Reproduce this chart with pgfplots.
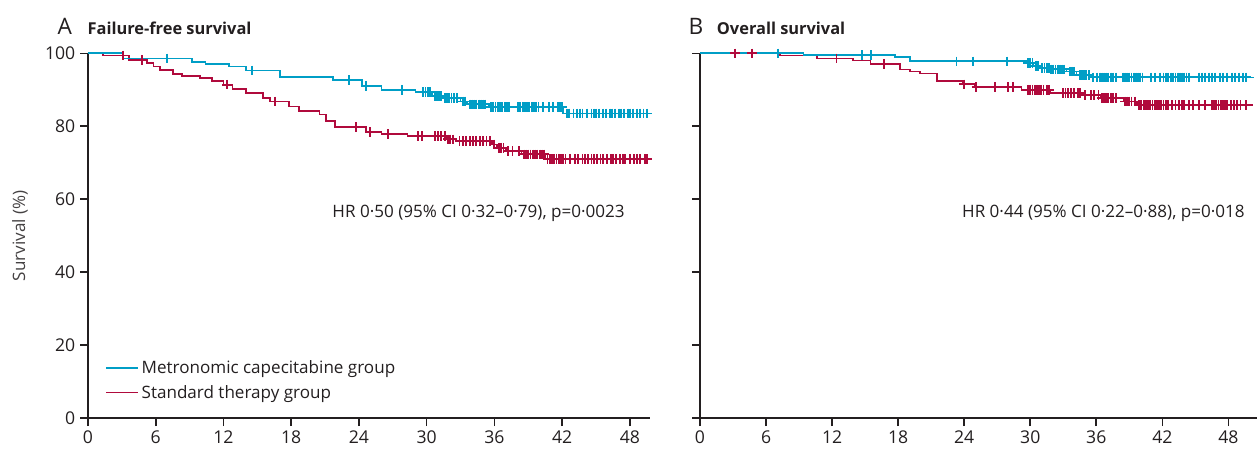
\documentclass[border=0pt]{standalone}
\usepackage{fontspec}
\setmainfont{Open Sans}
\usepackage{pgfplots}
\pgfplotsset{compat=1.18}
\definecolor{kmblue}{RGB}{0,158,198}
\definecolor{kmred}{RGB}{176,10,60}
\definecolor{axdark}{RGB}{35,31,32}
\definecolor{txt}{RGB}{35,31,32}

\pgfplotsset{
  kmaxis/.style={
    scale only axis, height=273.5pt,
    xmin=0, ymin=0, ymax=100,
    axis x line*=bottom, axis y line*=left,
    axis line style={axdark, line width=1.2pt, -},
    xtick={0,6,...,48}, ytick={0,20,...,100},
    tick align=outside, major tick length=6pt,
    tick style={axdark, line width=1.2pt},
    tick label style={font=\fontsize{13.2}{15}\selectfont, text=txt},
    /pgf/number format/assume math mode=true,
    clip=false,
  },
  kmline/.style={const plot, line width=1.3pt, no marks},
  cens/.style={only marks, mark=+, mark size=3.6pt, mark options={line width=1.4pt}},
}

\begin{document}
\begin{tikzpicture}
\path[use as bounding box] (0pt,0pt) rectangle (942.75pt,337.5pt);

% ---------------- Panel A ----------------
\begin{axis}[kmaxis, at={(66pt,24pt)}, anchor=south west, width=421.5pt, xmax=49.78,
  legend style={draw=none, fill=none, at={(rel axis cs:0.03,0.165)}, anchor=north west,
    font=\fontsize{12.8}{14}\selectfont, text=txt, inner sep=0pt, row sep=3pt,
    cells={anchor=west}},
  legend image code/.code={\draw[#1, line width=1.4pt] (0pt,0pt) -- (24pt,0pt);},
]
\addlegendimage{kmblue}
\addlegendentry{Metronomic capecitabine group}
\addlegendimage{kmred}
\addlegendentry{Standard therapy group}

\addplot[kmline, kmred, forget plot] coordinates {
(0,100)(1.3,99.4)(3.6,98.2)(5.2,97.3)(5.8,96.4)(6.4,95.5)(7.5,94.4)(8.3,93.8)(9.9,93.2)(11.0,92.5)(12.0,91.4)(12.8,90.2)(14.0,89.1)(15.5,87.7)(16.1,86.8)(17.8,85.4)(18.7,84.1)(20.5,83.2)(21.1,81.4)(21.9,79.8)(24.6,78.4)(26.0,77.9)(28.3,77.3)(31.7,76.4)(32.6,75.9)(35.8,75.0)(36.2,74.1)(37.0,73.2)(38.4,72.3)(40.5,71.0)(49.7,71.0)};
\addplot[cens, kmred, forget plot] coordinates {
(3.1,99.4)(4.8,98.2)(12.3,91.4)(16.6,86.8)(23.7,79.8)(25.0,78.4)(26.6,77.9)
(29.2,77.3)(29.6,77.3)(30.7,77.3)(31.0,77.3)(31.3,77.3)(31.6,77.3)
(31.9,76.4)(32.1,76.4)(32.3,76.4)
(32.9,75.9)(33.2,75.9)(33.5,75.9)(33.8,75.9)(34.1,75.9)(34.4,75.9)(34.7,75.9)(35.0,75.9)(35.3,75.9)(35.6,75.9)
(36.0,75.0)(36.4,74.1)(36.6,74.1)(36.8,74.1)(37.2,73.2)(37.6,73.2)(38.2,73.2)
(38.6,72.3)(38.8,72.3)(39.0,72.3)(39.2,72.3)(39.4,72.3)(39.6,72.3)(39.8,72.3)(40.0,72.3)(40.2,72.3)(40.4,72.3)
(40.7,71.0)(40.9,71.0)(41.1,71.0)(41.3,71.0)(41.5,71.0)(41.7,71.0)(41.9,71.0)(42.1,71.0)(42.3,71.0)(42.7,71.0)(43.1,71.0)(43.4,71.0)(43.8,71.0)(44.0,71.0)(44.3,71.0)(44.6,71.0)(44.8,71.0)(45.1,71.0)(45.4,71.0)(45.6,71.0)(46.0,71.0)(46.3,71.0)(46.5,71.0)(46.8,71.0)(47.1,71.0)(47.4,71.0)(47.6,71.0)(48.0,71.0)(48.4,71.0)(48.6,71.0)(48.9,71.0)(49.3,71.0)(49.5,71.0)};

\addplot[kmline, kmblue, forget plot] coordinates {
(0,100)(3.1,98.6)(9.2,97.7)(10.4,97.1)(12.5,96.4)(14.0,95.3)(17.0,93.6)(21.7,92.7)(24.3,91.1)(26.0,90.0)(29.0,89.4)(30.5,88.3)(31.4,87.7)(33.0,86.8)(33.6,86.0)(35.5,85.3)(42.1,83.5)(49.7,83.5)};
\addplot[cens, kmblue, forget plot] coordinates {
(7.0,98.6)(14.5,95.3)(23.1,92.7)(24.6,91.1)(27.8,90.0)
(29.7,89.4)(29.9,89.4)(30.1,89.4)(30.3,89.4)
(30.7,88.3)(30.9,88.3)(31.1,88.3)(31.3,88.3)
(31.6,87.7)(31.8,87.7)(32.0,87.7)(32.2,87.7)(32.4,87.7)(32.7,87.7)
(33.2,86.8)(33.4,86.8)
(33.8,86.0)(34.0,86.0)(34.2,86.0)(34.4,86.0)(34.6,86.0)(34.8,86.0)(35.0,86.0)(35.2,86.0)
(35.7,85.3)(35.9,85.3)(36.1,85.3)(36.3,85.3)(36.5,85.3)(36.7,85.3)(36.9,85.3)(37.1,85.3)(37.3,85.3)(38.1,85.3)(38.3,85.3)(38.5,85.3)(38.7,85.3)(38.9,85.3)(39.1,85.3)(39.3,85.3)(39.5,85.3)(39.7,85.3)(39.9,85.3)(40.3,85.3)(40.8,85.3)(41.2,85.3)(41.6,85.3)(41.8,85.3)(42.0,85.3)
(42.4,83.5)(42.6,83.5)(43.0,83.5)(43.3,83.5)(43.6,83.5)(43.8,83.5)(44.2,83.5)(44.6,83.5)(44.8,83.5)(45.0,83.5)(45.3,83.5)(45.6,83.5)(45.9,83.5)(46.2,83.5)(46.4,83.5)(46.7,83.5)(47.0,83.5)(47.2,83.5)(47.5,83.5)(47.8,83.5)(48.0,83.5)(48.3,83.5)(48.6,83.5)(48.9,83.5)(49.2,83.5)(49.5,83.5)};

\node[anchor=east, inner sep=0pt, font=\fontsize{12.8}{14}\selectfont, text=txt] at (axis cs:47.56,56.2) {HR 0·50 (95\% CI 0·32–0·79), p=0·0023};
\end{axis}

% ---------------- Panel B ----------------
\begin{axis}[kmaxis, at={(525pt,24pt)}, anchor=south west, width=417.75pt, xmax=50.6,
  yticklabels={}]
\addplot[kmline, kmred] coordinates {
(0,100)(7.3,99.4)(10.6,98.6)(13.9,98.0)(15.5,97.1)(18.2,95.6)(19.1,95.0)(20.0,94.5)(21.5,92.4)(23.9,91.5)(25.0,90.8)(29.2,90.0)(31.8,89.1)(34.8,88.6)(36.4,87.7)(38.5,86.8)(39.7,85.8)(50.2,85.8)};
\addplot[cens, kmred] coordinates {
(3.2,100)(4.7,100)(12.4,98.6)(16.7,97.1)(24.0,91.5)(25.1,90.8)(26.8,90.8)(28.0,90.8)(28.4,90.8)
(29.8,90.0)(30.0,90.0)(30.2,90.0)(30.4,90.0)(30.6,90.0)(30.8,90.0)(31.0,90.0)(31.2,90.0)(31.5,90.0)(31.7,90.0)
(33.0,89.1)(33.2,89.1)(33.4,89.1)(33.7,89.1)(34.0,89.1)(34.3,89.1)(34.5,89.1)
(35.0,88.6)(35.5,88.6)(35.8,88.6)(36.2,88.6)
(36.5,87.7)(36.7,87.7)(36.9,87.7)(37.1,87.7)(37.3,87.7)(37.5,87.7)(37.8,87.7)
(38.6,86.8)(38.8,86.8)(39.0,86.8)(39.2,86.8)(39.5,86.8)
(39.9,85.8)(40.1,85.8)(40.3,85.8)(40.5,85.8)(40.7,85.8)(40.9,85.8)(41.1,85.8)(41.3,85.8)(41.5,85.8)(41.7,85.8)(41.9,85.8)(42.1,85.8)(42.3,85.8)(42.5,85.8)(42.9,85.8)(43.2,85.8)(43.5,85.8)(43.8,85.8)(44.0,85.8)(44.4,85.8)(44.8,85.8)(45.3,85.8)(45.9,85.8)(46.5,85.8)(46.7,85.8)(46.9,85.8)(47.1,85.8)(47.3,85.8)(47.5,85.8)(47.7,85.8)(47.9,85.8)(48.2,85.8)(48.5,85.8)(48.8,85.8)(49.1,85.8)(49.6,85.8)};

\addplot[kmline, kmblue] coordinates {
(0,100)(9.4,99.5)(17.7,98.9)(19.1,97.8)(29.7,97.3)(30.3,96.6)(30.9,96.0)(31.8,95.6)(33.3,95.0)(34.2,94.1)(35.5,93.4)(50.3,93.4)};
\addplot[cens, kmblue] coordinates {
(7.1,100)(14.7,99.5)(15.5,99.5)(23.3,97.8)(24.8,97.8)(27.9,97.8)
(29.8,97.3)(30.0,97.3)(30.2,97.3)
(30.5,96.6)(30.7,96.6)
(31.1,96.0)(31.3,96.0)(31.5,96.0)(31.7,96.0)
(31.9,95.6)(32.1,95.6)(32.3,95.6)(32.5,95.6)(32.7,95.6)(32.9,95.6)(33.1,95.6)
(33.6,95.0)(33.8,95.0)(34.0,95.0)
(34.5,94.1)(34.7,94.1)(34.9,94.1)(35.1,94.1)(35.3,94.1)
(35.7,93.4)(36.1,93.4)(36.3,93.4)(36.5,93.4)(36.7,93.4)(36.9,93.4)(37.1,93.4)(37.3,93.4)(37.5,93.4)(37.8,93.4)(38.4,93.4)(38.6,93.4)(38.8,93.4)(39.0,93.4)(39.2,93.4)(39.4,93.4)(39.6,93.4)(39.8,93.4)(40.0,93.4)(40.2,93.4)(41.0,93.4)(41.3,93.4)(41.8,93.4)(42.1,93.4)(42.3,93.4)(42.5,93.4)(42.8,93.4)(43.0,93.4)(43.2,93.4)(43.4,93.4)(43.6,93.4)(43.8,93.4)(44.0,93.4)(44.2,93.4)(44.4,93.4)(45.3,93.4)(45.6,93.4)(45.9,93.4)(46.2,93.4)(46.5,93.4)(46.8,93.4)(47.2,93.4)(47.5,93.4)(47.9,93.4)(48.3,93.4)(48.6,93.4)(49.0,93.4)(49.3,93.4)(49.6,93.4)};

\node[anchor=east, inner sep=0pt, font=\fontsize{12.8}{14}\selectfont, text=txt] at (axis cs:49.5,56.2) {HR 0·44 (95\% CI 0·22–0·88), p=0·018};
\end{axis}

% titles and y label
\node[anchor=base west, inner sep=0pt, font=\fontsize{17}{18}\selectfont, text=txt] at (43pt,311.8pt) {A};
\node[anchor=base west, inner sep=0pt, font=\bfseries\fontsize{12.3}{14}\selectfont, text=txt] at (65.5pt,311.8pt) {Failure-free survival};
\node[anchor=base west, inner sep=0pt, font=\fontsize{17}{18}\selectfont, text=txt] at (516.2pt,311.8pt) {B};
\node[anchor=base west, inner sep=0pt, font=\bfseries\fontsize{12.3}{14}\selectfont, text=txt] at (537.5pt,311.8pt) {Overall survival};
\node[rotate=90, inner sep=0pt, font=\fontsize{12.8}{14}\selectfont, text=txt!85] at (15pt,160.6pt) {Survival (\%)};
\end{tikzpicture}
\end{document}
